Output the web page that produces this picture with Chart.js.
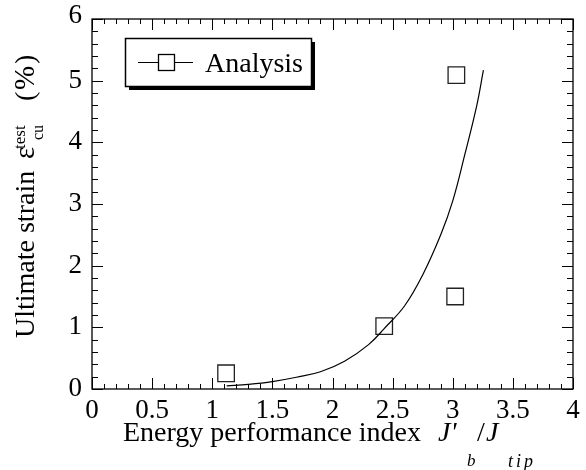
<!DOCTYPE html>
<html><head><meta charset="utf-8">
<script src="https://cdn.jsdelivr.net/npm/chart.js@4/dist/chart.umd.min.js"></script>
<style>html,body{margin:0;padding:0;background:#fff;}#wrap{width:586px;height:470px;}</style>
</head><body><div id="wrap"><canvas id="c" width="586" height="470"></canvas></div>
<script>
// Analysis curve
const curveX = [1.12, 1.3, 1.5, 1.7, 1.9, 2.1, 2.3, 2.43, 2.6, 2.75, 2.9, 3.0, 3.1, 3.2, 3.255];
const curveY = [0.05, 0.075, 0.12, 0.19, 0.28, 0.45, 0.72, 0.98, 1.35, 1.85, 2.5, 3.05, 3.8, 4.6, 5.17];
// Test points
const testX = [1.115, 2.43, 3.02, 3.03];
const testY = [0.255, 1.02, 1.50, 5.09];
// Ticks
const xTickValues = [0, 0.5, 1, 1.5, 2, 2.5, 3, 3.5, 4];
const xTickLabels = ['0', '0.5', '1', '1.5', '2', '2.5', '3', '3.5', '4'];
const yTickValues = [0, 1, 2, 3, 4, 5, 6];
const yTickLabels = ['0', '1', '2', '3', '4', '5', '6'];
const legendLabel = 'Analysis';

const SERIF = '"Liberation Serif", "Times New Roman", Times, serif';
const FS = 27;

function txt(ctx, s, x, y, size, opts) {
  opts = opts || {};
  ctx.save();
  ctx.font = (opts.italic ? 'italic ' : '') + size + 'px ' + SERIF;
  ctx.textAlign = opts.align || 'left';
  ctx.textBaseline = opts.baseline || 'alphabetic';
  if (opts.spacing) ctx.letterSpacing = opts.spacing;
  ctx.fillStyle = '#000';
  ctx.fillText(s, x, y);
  ctx.restore();
}

const decor = {
  id: 'decor',
  afterDraw(chart) {
    const ctx = chart.ctx;
    const xs = chart.scales.x, ys = chart.scales.y;
    const a = chart.chartArea;
    ctx.save();
    ctx.strokeStyle = '#000';
    ctx.lineWidth = 1.3;
    ctx.strokeRect(a.left, a.top, a.right - a.left, a.bottom - a.top);
    ctx.lineWidth = 1;
    ctx.beginPath();
    const nx = Math.round((xs.max - xs.min) / 0.1);
    for (let i = 0; i <= nx; i++) {
      const v = xs.min + i * 0.1;
      const px = Math.round(xs.getPixelForValue(v)) + 0.5;
      const len = (i % 5 === 0) ? 11 : 5;
      ctx.moveTo(px, a.bottom); ctx.lineTo(px, a.bottom - len);
      ctx.moveTo(px, a.top); ctx.lineTo(px, a.top + len);
    }
    const ny = Math.round((ys.max - ys.min) / 0.2);
    for (let i = 0; i <= ny; i++) {
      const v = ys.min + i * 0.2;
      const py = Math.round(ys.getPixelForValue(v)) + 0.5;
      const len = (i % 5 === 0) ? 11 : 6;
      ctx.moveTo(a.left, py); ctx.lineTo(a.left + len, py);
      ctx.moveTo(a.right, py); ctx.lineTo(a.right - len, py);
    }
    ctx.stroke();

    // tick labels
    xTickValues.forEach((v, i) => {
      txt(ctx, xTickLabels[i], xs.getPixelForValue(v), 418, FS, {align: 'center'});
    });
    yTickValues.forEach((v, i) => {
      let py = ys.getPixelForValue(v);
      if (i === yTickValues.length - 1) py -= 3;
      txt(ctx, yTickLabels[i], 82, py, FS, {align: 'right', baseline: 'middle'});
    });

    // x title
    const tb = 441;
    txt(ctx, 'Energy performance index', 123, tb, 28);
    txt(ctx, "J'", 438, tb, 28, {italic: true});
    txt(ctx, 'b', 467, 466, 17, {italic: true});
    txt(ctx, '/', 477, tb, 28);
    txt(ctx, 'J', 486, tb, 28, {italic: true});
    txt(ctx, 'tip', 508, 467, 18, {italic: true, spacing: '3px'});

    // y title (rotated)
    const yrun = (s, u, v, size) => {
      ctx.save();
      ctx.translate(34, 338);
      ctx.rotate(-Math.PI / 2);
      ctx.font = size + 'px ' + SERIF;
      ctx.textAlign = 'left';
      ctx.textBaseline = 'alphabetic';
      ctx.fillStyle = '#000';
      ctx.fillText(s, u, v);
      ctx.restore();
    };
    yrun('Ultimate strain', 0, 0, 28);
    yrun('\u03B5', 179, 0, 29);
    yrun('test', 189, -9, 17);
    yrun('cu', 198, 9, 16);
    yrun('(', 237, 0, 28);
    yrun('%', 248, 0, 29);
    yrun(')', 274, 0, 28);

    // legend
    const L = 125, T = 38, W = 186, H = 48;
    ctx.fillStyle = '#000';
    ctx.fillRect(L + 4, T + 4, W, H);
    ctx.fillStyle = '#fff';
    ctx.fillRect(L, T, W, H);
    ctx.lineWidth = 1.5;
    ctx.strokeStyle = '#000';
    ctx.strokeRect(L + 0.5, T + 0.5, W, H);
    ctx.lineWidth = 1;
    ctx.beginPath();
    ctx.moveTo(138, 62.5); ctx.lineTo(193, 62.5);
    ctx.stroke();
    ctx.fillStyle = '#fff';
    ctx.fillRect(158, 54, 16, 16);
    ctx.lineWidth = 1.3;
    ctx.strokeRect(158.5, 54.5, 16, 16);
    txt(ctx, legendLabel, 205, 72, 28);
    ctx.restore();
  }
};

function build() {
  new Chart(document.getElementById('c'), {
    type: 'scatter',
    data: {
      datasets: [
        {
          label: legendLabel,
          data: curveX.map((x, i) => ({x: x, y: curveY[i]})),
          showLine: true,
          pointRadius: 0,
          borderColor: '#000',
          borderWidth: 1.2,
          tension: 0.4,
          fill: false
        },
        {
          label: 'Test',
          data: testX.map((x, i) => ({x: x, y: testY[i]})),
          showLine: false,
          pointStyle: 'rect',
          pointRadius: 11.7,
          pointBorderWidth: 1.3,
          pointBorderColor: '#222',
          pointBackgroundColor: 'rgba(0,0,0,0)'
        }
      ]
    },
    options: {
      responsive: false,
      animation: false,
      devicePixelRatio: 1,
      layout: {padding: {left: 0, top: 19, right: 7, bottom: 0}},
      plugins: {legend: {display: false}, tooltip: {enabled: false}},
      scales: {
        x: {
          type: 'linear', min: 0, max: 4,
          ticks: {display: false},
          grid: {display: false},
          border: {display: false},
          afterFit(s) { s.height = 81; }
        },
        y: {
          type: 'linear', min: 0, max: 6,
          ticks: {display: false},
          grid: {display: false},
          border: {display: false},
          afterFit(s) { s.width = 92; }
        }
      }
    },
    plugins: [decor]
  });
}
Promise.all([
  document.fonts.load('22px "Liberation Serif"'),
  document.fonts.load('italic 22px "Liberation Serif"')
]).then(build, build);
</script>
</body></html>
